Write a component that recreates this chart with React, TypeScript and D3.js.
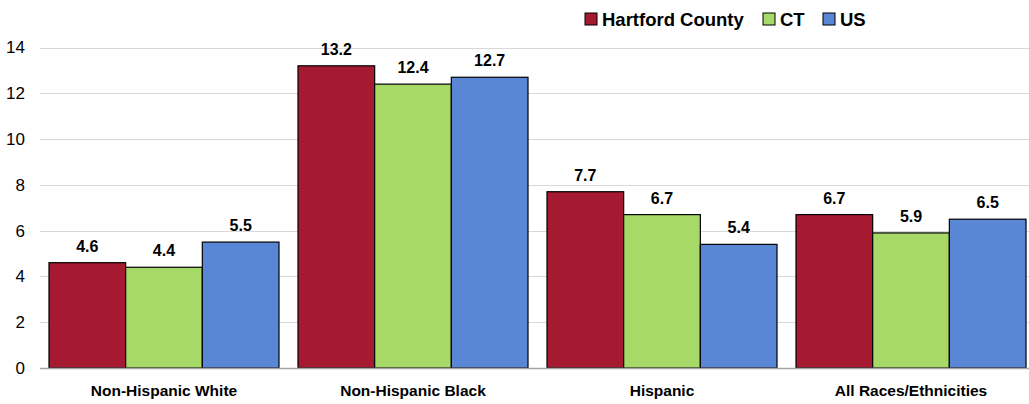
import React, { useEffect, useRef } from 'react';
import * as d3 from 'd3';

const categories = ['Non-Hispanic White', 'Non-Hispanic Black', 'Hispanic', 'All Races/Ethnicities'];
const seriesNames = ['Hartford County', 'CT', 'US'];
const hartford = [4.6, 13.2, 7.7, 6.7];
const ct = [4.4, 12.4, 6.7, 5.9];
const us = [5.5, 12.7, 5.4, 6.5];
const yTicks = [0, 2, 4, 6, 8, 10, 12, 14];
const colors = ['#A51931', '#A7D968', '#5A86D6'];

const width = 1029;
const height = 404;

const App: React.FC = () => {
  const svgRef = useRef<SVGSVGElement | null>(null);

  useEffect(() => {
    document.body.style.margin = '0';
    const svg = d3.select(svgRef.current);
    svg.selectAll('*').remove();

    const values = [hartford, ct, us];
    const data = categories.map((c, i) => ({
      category: c,
      vals: seriesNames.map((s, j) => ({ series: s, value: values[j][i] })),
    }));

    const x0 = d3.scaleBand()
      .domain(categories)
      .range([39.5, 1035.5])
      .paddingInner(0.0763)
      .paddingOuter(0.0381);

    const x1 = d3.scaleBand()
      .domain(seriesNames)
      .range([0, x0.bandwidth()]);

    const y = d3.scaleLinear()
      .domain([0, 14])
      .range([368, 47.5]);

    // gridlines
    svg.append('g')
      .selectAll('line')
      .data(yTicks.filter(t => t > 0))
      .join('line')
      .attr('x1', 40)
      .attr('x2', 1029)
      .attr('y1', d => Math.round(y(d)) + 0.5)
      .attr('y2', d => Math.round(y(d)) + 0.5)
      .attr('stroke', '#d9d9d9')
      .attr('stroke-width', 1);

    // y tick labels
    svg.append('g')
      .selectAll('text')
      .data(yTicks)
      .join('text')
      .attr('x', 25)
      .attr('y', d => y(d))
      .attr('dy', '0.35em')
      .attr('text-anchor', 'end')
      .attr('font-family', '"Liberation Sans Narrow", "Arial Narrow", Arial, sans-serif')
      .attr('font-size', 17)
      .attr('fill', '#000')
      .text(d => d);

    // bars
    const groups = svg.append('g')
      .selectAll('g')
      .data(data)
      .join('g')
      .attr('transform', d => `translate(${x0(d.category)},0)`);

    groups.selectAll('rect')
      .data(d => d.vals)
      .join('rect')
      .attr('x', d => x1(d.series)!)
      .attr('y', d => y(d.value))
      .attr('width', x1.bandwidth())
      .attr('height', d => y(0) - y(d.value))
      .attr('fill', (d, i) => colors[i])
      .attr('stroke', '#000')
      .attr('stroke-width', 1.2);

    groups.selectAll('text')
      .data(d => d.vals)
      .join('text')
      .attr('x', d => x1(d.series)! + x1.bandwidth() / 2)
      .attr('y', d => y(d.value) - 11)
      .attr('text-anchor', 'middle')
      .attr('font-family', 'Arial, "Liberation Sans", sans-serif')
      .attr('font-weight', 'bold')
      .attr('font-size', 16)
      .attr('fill', '#000')
      .text(d => d.value.toFixed(1));

    // x axis baseline
    svg.append('line')
      .attr('x1', 40)
      .attr('x2', 1029)
      .attr('y1', 368.5)
      .attr('y2', 368.5)
      .attr('stroke', '#a6a6a6')
      .attr('stroke-width', 1.5);

    // category labels
    svg.append('g')
      .selectAll('text')
      .data(categories)
      .join('text')
      .attr('x', d => x0(d)! + x0.bandwidth() / 2)
      .attr('y', 396)
      .attr('text-anchor', 'middle')
      .attr('font-family', 'Arial, "Liberation Sans", sans-serif')
      .attr('font-weight', 'bold')
      .attr('font-size', 15.5)
      .attr('fill', '#000')
      .text(d => d);

    // legend
    const legendX = [585, 763, 823];
    const legend = svg.append('g')
      .selectAll('g')
      .data(seriesNames)
      .join('g')
      .attr('transform', (d, i) => `translate(${legendX[i]},13)`);

    legend.append('rect')
      .attr('width', 12)
      .attr('height', 12)
      .attr('fill', (d, i) => colors[i])
      .attr('stroke', '#000')
      .attr('stroke-width', 1);

    legend.append('text')
      .attr('x', 17)
      .attr('y', 13)
      .attr('font-family', 'Arial, "Liberation Sans", sans-serif')
      .attr('font-weight', 'bold')
      .attr('font-size', 18.5)
      .attr('fill', '#000')
      .text(d => d);
  }, []);

  return <svg ref={svgRef} width={width} height={height} style={{ display: 'block' }} />;
};

export default App;
